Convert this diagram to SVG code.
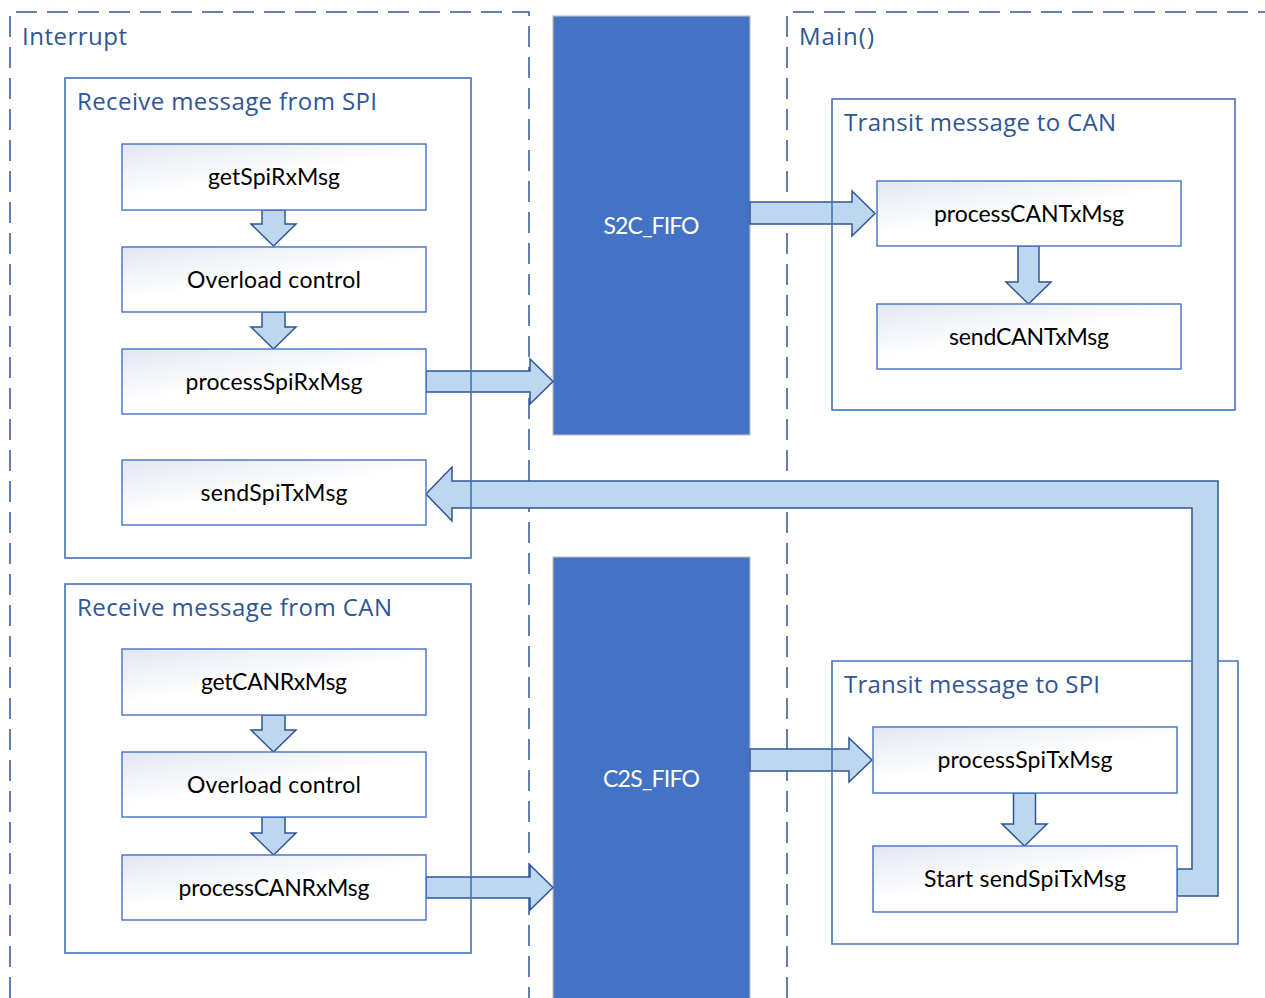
<svg xmlns="http://www.w3.org/2000/svg" width="1265" height="998" viewBox="0 0 1265 998">
  <style>
    .lane { fill: none; stroke: #2F5597; stroke-width: 1.5; stroke-dasharray: 21 10; }
    .cont { fill: none; stroke: #4472C4; stroke-width: 1.6; }
    .node { fill: url(#nodeGrad); stroke: #4472C4; stroke-width: 1.4; }
    .fifo { fill: #4472C4; stroke: #BFBFBF; stroke-width: 1.2; }
    .arrow { fill: #BDD7EE; stroke: #2F5597; stroke-width: 1.5; stroke-linejoin: miter; }
    .title { font-family: "Open Sans", "Noto Sans", sans-serif; font-size: 24px; fill: #2F5597; }
    .label { font-family: Lato, "Noto Sans", sans-serif; font-size: 23px; fill: #000000; text-anchor: middle; }
    .flabel { font-family: Lato, "Noto Sans", sans-serif; font-size: 23px; fill: #FFFFFF; text-anchor: middle; }
  </style>
  <defs>
    <linearGradient id="nodeGrad" x1="0" y1="0" x2="0.7" y2="1">
      <stop offset="0" stop-color="#E2E6F0"/>
      <stop offset="0.55" stop-color="#FFFFFF"/>
      <stop offset="1" stop-color="#FFFFFF"/>
    </linearGradient>
  </defs>
  <rect x="0" y="0" width="1265" height="998" fill="#FFFFFF"/>

  <g id="lane-interrupt">
    <path class="lane" d="M10,998 V12 H529 V998"/>
    <text class="title" x="22" y="45" textLength="105">Interrupt</text>
  </g>
  <g id="lane-main">
    <path class="lane" d="M787,998 V12 H1265"/>
    <text class="title" x="799" y="45" textLength="75">Main()</text>
  </g>

  <g id="s2c-fifo">
    <rect class="fifo" x="553" y="16" width="197" height="419"/>
    <text class="flabel" x="651.5" y="234" textLength="96">S2C_FIFO</text>
  </g>
  <g id="c2s-fifo">
    <rect class="fifo" x="553" y="557" width="197" height="445"/>
    <text class="flabel" x="651.5" y="787" textLength="97">C2S_FIFO</text>
  </g>

  <g id="connectors">
    <!-- vertical down arrows -->
    <polygon class="arrow" points="262,210 285,210 285,224 296,224 273.5,246 251,224 262,224"/>
    <polygon class="arrow" points="262,312 285,312 285,327 296,327 273.5,349 251,327 262,327"/>
    <polygon class="arrow" points="262,715 285,715 285,730 296,730 273.5,752 251,730 262,730"/>
    <polygon class="arrow" points="262,817 285,817 285,833 296,833 273.5,855 251,833 262,833"/>
    <polygon class="arrow" points="1018,246 1039,246 1039,282 1051,282 1028.5,304 1006,282 1018,282"/>
    <polygon class="arrow" points="1013.5,793 1035.5,793 1035.5,824 1047,824 1024.5,846 1002,824 1013.5,824"/>
    <!-- horizontal right arrows -->
    <polygon class="arrow" points="426,371 530,371 530,359 553,381.5 530,404 530,392 426,392"/>
    <polygon class="arrow" points="426,877 530,877 530,865 553,887.5 530,910 530,898 426,898"/>
    <polygon class="arrow" points="750,202 852,202 852,191 875,213.5 852,236 852,224 750,224"/>
    <polygon class="arrow" points="750,749 849,749 849,738 872,760 849,782 849,771 750,771"/>
    <!-- loop arrow: Start sendSpiTxMsg back to sendSpiTxMsg -->
    <polygon class="arrow" points="1177,869 1192,869 1192,508 452,508 452,521 426,494 452,467 452,481 1218,481 1218,896 1177,896"/>
  </g>

  <g id="rx-spi">
    <rect class="cont" x="65" y="78" width="406" height="480"/>
    <text class="title" x="77" y="110" textLength="300">Receive message from SPI</text>
  </g>
  <g id="getSpiRxMsg">
    <rect class="node" x="122" y="144" width="304" height="66"/>
    <text class="label" x="274" y="185" textLength="132">getSpiRxMsg</text>
  </g>
  <g id="overload-spi">
    <rect class="node" x="122" y="247" width="304" height="65"/>
    <text class="label" x="274" y="287.5" textLength="174">Overload control</text>
  </g>
  <g id="processSpiRxMsg">
    <rect class="node" x="122" y="349" width="304" height="65"/>
    <text class="label" x="274" y="389.5" textLength="177">processSpiRxMsg</text>
  </g>
  <g id="sendSpiTxMsg">
    <rect class="node" x="122" y="460" width="304" height="65"/>
    <text class="label" x="274" y="500.5" textLength="147">sendSpiTxMsg</text>
  </g>

  <g id="rx-can">
    <rect class="cont" x="65" y="584" width="406" height="369"/>
    <text class="title" x="77" y="616" textLength="315">Receive message from CAN</text>
  </g>
  <g id="getCANRxMsg">
    <rect class="node" x="122" y="649" width="304" height="66"/>
    <text class="label" x="274" y="690" textLength="146">getCANRxMsg</text>
  </g>
  <g id="overload-can">
    <rect class="node" x="122" y="752" width="304" height="65"/>
    <text class="label" x="274" y="792.5" textLength="174">Overload control</text>
  </g>
  <g id="processCANRxMsg">
    <rect class="node" x="122" y="855" width="304" height="65"/>
    <text class="label" x="274" y="895.5" textLength="191">processCANRxMsg</text>
  </g>

  <g id="tx-can">
    <rect class="cont" x="832" y="99" width="403" height="311"/>
    <text class="title" x="844" y="131" textLength="272">Transit message to CAN</text>
  </g>
  <g id="processCANTxMsg">
    <rect class="node" x="877" y="181" width="304" height="65"/>
    <text class="label" x="1029" y="221.5" textLength="190">processCANTxMsg</text>
  </g>
  <g id="sendCANTxMsg">
    <rect class="node" x="877" y="304" width="304" height="65"/>
    <text class="label" x="1029" y="344.5" textLength="160">sendCANTxMsg</text>
  </g>

  <g id="tx-spi">
    <path class="cont" d="M1192,661 H832 V944 H1238 V661 H1218"/>
    <text class="title" x="844" y="693" textLength="256">Transit message to SPI</text>
  </g>
  <g id="processSpiTxMsg">
    <rect class="node" x="873" y="727" width="304" height="66"/>
    <text class="label" x="1025" y="768" textLength="175">processSpiTxMsg</text>
  </g>
  <g id="startSendSpiTxMsg">
    <rect class="node" x="873" y="846" width="304" height="66"/>
    <text class="label" x="1025" y="887" textLength="202">Start sendSpiTxMsg</text>
  </g>
</svg>
